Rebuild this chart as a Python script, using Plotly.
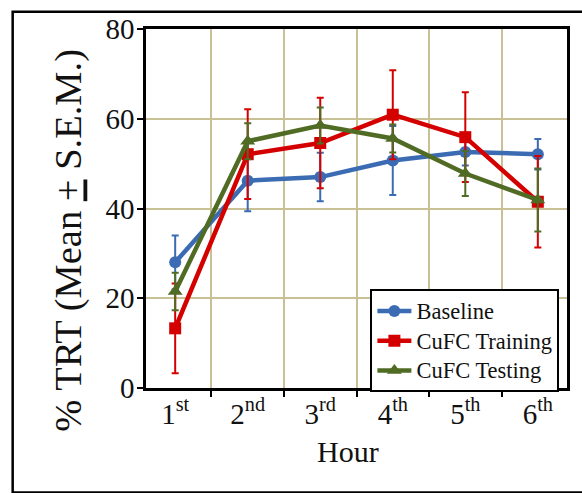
import plotly.graph_objects as go

hours = ["1<sup>st</sup>", "2<sup>nd</sup>", "3<sup>rd</sup>", "4<sup>th</sup>", "5<sup>th</sup>", "6<sup>th</sup>"]

baseline = [28.0, 46.2, 47.0, 50.7, 52.6, 52.1]
baseline_err = [6.0, 6.8, 5.4, 7.7, 3.0, 3.4]

training = [13.3, 52.1, 54.6, 60.9, 55.9, 41.5]
training_err = [10.0, 10.0, 10.1, 9.9, 10.0, 10.2]

testing = [21.5, 55.0, 58.5, 55.6, 47.8, 41.9]
testing_err = [4.2, 4.0, 4.0, 3.1, 5.0, 7.0]

y_ticks = [0, 20, 40, 60, 80]

FONT = "Liberation Serif"
BLUE = "#3b6cb3"
RED = "#d40000"
GREEN = "#4f6b24"
GRID = "#c9c096"

fig = go.Figure()

series = [
    ("Baseline", baseline, baseline_err, BLUE, "circle", 12),
    ("CuFC Training", training, training_err, RED, "square", 12),
    ("CuFC Testing", testing, testing_err, GREEN, "triangle-up", 13),
]
for name, vals, errs, color, sym, msize in series:
    fig.add_trace(go.Scatter(
        x=hours, y=vals, name="<span style='font-size:22.5px'>" + name + "</span>",
        mode="lines+markers",
        line=dict(color=color, width=4.5),
        marker=dict(color=color, symbol=sym, size=msize),
        error_y=dict(type="data", array=errs, visible=True,
                     color=color, thickness=2, width=3.5),
    ))

fig.update_layout(
    width=582, height=493,
    margin=dict(l=146, r=12, t=29, b=105),
    paper_bgcolor="white", plot_bgcolor="white",
    font=dict(family=FONT, color="black"),
    showlegend=True,
    legend=dict(
        x=0.533, y=0.275, xanchor="left", yanchor="top",
        bgcolor="white", bordercolor="black", borderwidth=2,
        font=dict(family=FONT, size=20.5, color="#111111"),
        tracegroupgap=0, itemwidth=34,
    ),
    xaxis=dict(
        type="category", tickson="boundaries",
        showgrid=True, gridcolor=GRID, gridwidth=1.5,
        ticks="outside", ticklen=6, tickwidth=2, tickcolor="black",
        showline=True, linecolor="black", linewidth=2.5, mirror=True,
        tickfont=dict(family=FONT, size=29, color="#111111"),
        ticklabelstandoff=-2,
        zeroline=False,
    ),
    yaxis=dict(
        range=[0, 80], tickvals=y_ticks,
        showgrid=True, gridcolor=GRID, gridwidth=1.5,
        ticks="outside", ticklen=6, tickwidth=2, tickcolor="black",
        showline=True, linecolor="black", linewidth=2.5, mirror=True,
        tickfont=dict(family=FONT, size=29, color="#111111"),
        ticklabelstandoff=-3,
        zeroline=False,
    ),
    annotations=[
        dict(text="% TRT (Mean <u>+</u> S.E.M.)", textangle=-90,
             xref="paper", yref="paper", x=-0.184, y=0.412,
             xanchor="center", yanchor="middle", showarrow=False,
             font=dict(family=FONT, size=38.5, color="#111111")),
        dict(text="Hour", xref="paper", yref="paper", x=0.479, y=-0.178,
             xanchor="center", yanchor="middle", showarrow=False,
             font=dict(family=FONT, size=30, color="#111111")),
    ],
    shapes=[
        dict(type="rect", xref="paper", yref="paper",
             x0=-0.3167, x1=1.1, y0=-0.291, y1=1.048,
             line=dict(color="black", width=2.5), fillcolor="rgba(0,0,0,0)",
             layer="below"),
    ],
)

fig.write_html("out.html", config={"displayModeBar": False},
               post_script="document.body.style.margin='0';")
